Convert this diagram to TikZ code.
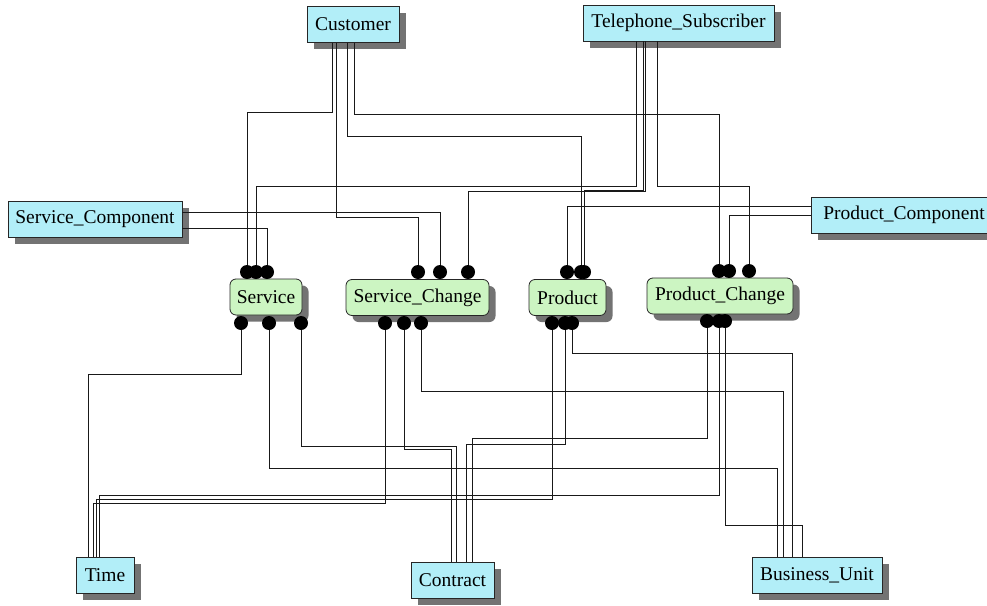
\documentclass[tikz,border=0pt]{standalone}
\usepackage{fontspec}
\setmainfont{Liberation Serif}
\usetikzlibrary{shadows}

\definecolor{entcyan}{RGB}{178,238,248}
\definecolor{relgreen}{RGB}{204,245,194}

\tikzset{
  entity/.style={draw=black!85, fill=entcyan, line width=0.8pt,
    inner sep=0pt, minimum height=36pt,
    drop shadow={shadow xshift=6.5pt, shadow yshift=-6.5pt,
      fill=black!55, opacity=1}},
  relation/.style={entity, fill=relgreen, rounded corners=6pt},
  port/.style={circle, fill=black, inner sep=0pt, minimum size=14pt},
  link/.style={black!90, line width=0.75pt}
}

\begin{document}
\begin{tikzpicture}[x=1pt,y=-1pt,font=\fontsize{19.5}{22}\selectfont]
\useasboundingbox (0,0) rectangle (987,605);

% Entities.
\node[entity, minimum width=92pt]  (customer)  at (353,24.5)  {Customer};
\node[entity, minimum width=191pt] (telSub)    at (678.5,23)  {Telephone\_Subscriber};
\node[entity, minimum width=174pt] (servComp)  at (95,219)    {Service\_Component};
\node[entity, minimum width=186pt] (prodComp)  at (904,215)   {Product\_Component};
\node[entity, minimum width=58pt]  (time)      at (105,575)   {Time};
\node[entity, minimum width=83pt]  (contract)  at (452.5,580.5) {Contract};
\node[entity, minimum width=130pt] (busUnit)   at (817,575)   {Business\_Unit};

% Relationships.
\node[relation, minimum width=72pt]  (service)    at (266,297)   {Service};
\node[relation, minimum width=143pt] (servChange) at (417.5,297.5) {Service\_Change};
\node[relation, minimum width=77pt]  (product)    at (567.5,297.5) {Product};
\node[relation, minimum width=146pt] (prodChange) at (720,296)   {Product\_Change};

% Ports on top and bottom of each relationship.
\foreach \n/\x in {svT1/247,svT2/256,svT3/267,scT1/418,scT2/440,scT3/468,
                   prT1/567,prT2/581,prT3/584}
  \node[port] (\n) at (\x,272) {};
\foreach \n/\x in {pcT1/719,pcT2/729,pcT3/749}
  \node[port] (\n) at (\x,271) {};
\foreach \n/\x in {svB1/241,svB2/269,svB3/301,scB1/385,scB2/404,scB3/421,
                   prB1/552,prB2/565,prB3/572}
  \node[port] (\n) at (\x,323) {};
\foreach \n/\x in {pcB1/707,pcB2/719,pcB3/725}
  \node[port] (\n) at (\x,321) {};

% Links from Customer and Telephone_Subscriber.
\draw[link] ([xshift=-21pt]customer.south) |- (247,112) -- (svT1);
\draw[link] ([xshift=-17pt]customer.south) |- (418,217) -- (scT1);
\draw[link] ([xshift=-6pt]customer.south)  |- (581,136) -- (prT2);
\draw[link] ([xshift=1pt]customer.south)   |- (719,114) -- (pcT1);

\draw[link] ([xshift=-42.5pt]telSub.south) |- (256,186) -- (svT2);
\draw[link] ([xshift=-35.5pt]telSub.south) |- (584,190) -- (prT3);
\draw[link] ([xshift=-33.5pt]telSub.south) |- (468,191.5) -- (scT3);
\draw[link] ([xshift=-21.5pt]telSub.south) |- (749,186) -- (pcT3);

% Links from the components.
\draw[link] ([yshift=7pt]servComp.east)  -| (scT2);
\draw[link] ([yshift=-9pt]servComp.east) -| (svT3);
\draw[link] ([yshift=9pt]prodComp.west)  -| (prT1);
\draw[link] (prodComp.west) -| (pcT2);

% Links down to Time, Contract and Business_Unit.
\draw[link] (svB1) |- (88,374)  -- ([xshift=-17pt]time.north);
\draw[link] (svB2) |- (777,468) -- ([xshift=-40pt]busUnit.north);
\draw[link] (svB3) |- (456,446) -- ([xshift=3.5pt]contract.north);

\draw[link] (scB1) |- (93,503)  -- ([xshift=-12pt]time.north);
\draw[link] (scB2) |- (451,449) -- ([xshift=-1.5pt]contract.north);
\draw[link] (scB3) |- (783,391) -- ([xshift=-34pt]busUnit.north);

\draw[link] (prB1) |- (96,499)  -- ([xshift=-9pt]time.north);
\draw[link] (prB2) |- (466,444) -- ([xshift=13.5pt]contract.north);
\draw[link] (prB3) |- (792,353) -- ([xshift=-25pt]busUnit.north);

\draw[link] (pcB1) |- (472,438) -- ([xshift=19.5pt]contract.north);
\draw[link] (pcB2) |- (99,495)  -- ([xshift=-6pt]time.north);
\draw[link] (pcB3) |- (802,525) -- ([xshift=-15pt]busUnit.north);

\end{tikzpicture}
\end{document}
